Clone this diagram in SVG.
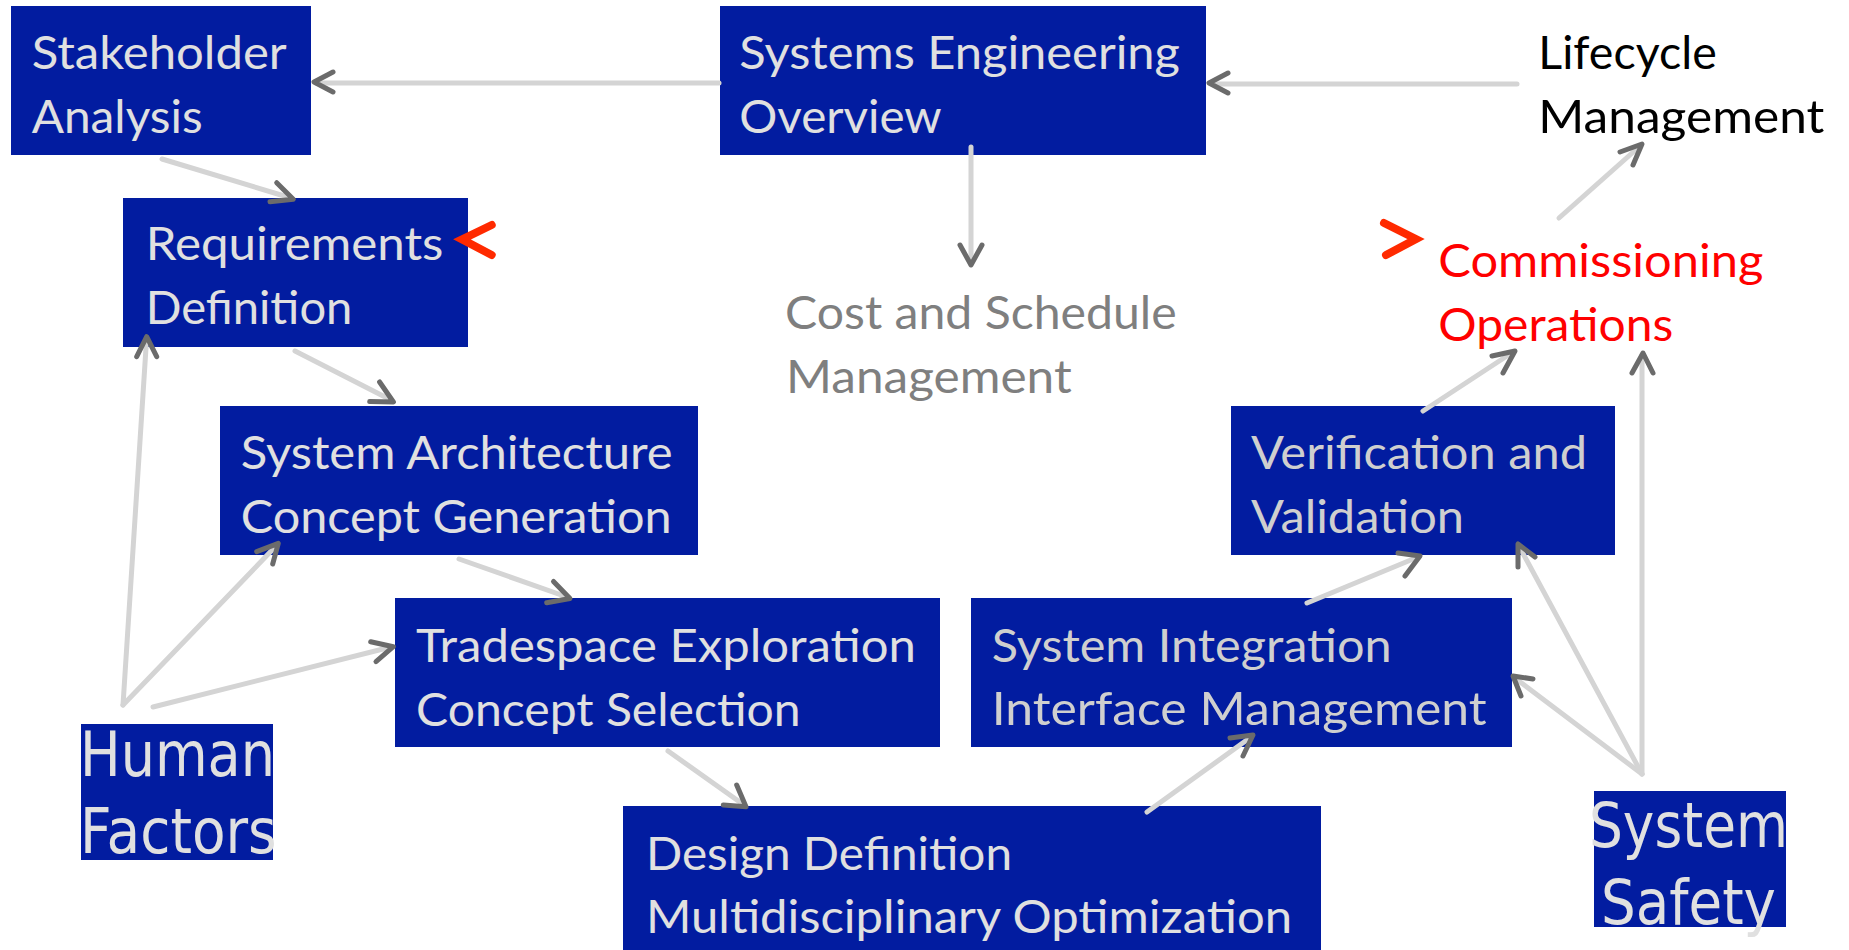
<svg xmlns="http://www.w3.org/2000/svg" width="1849" height="950" viewBox="0 0 1849 950">
<style>
.box{fill:#021ca0}
.t{font-family:Lato,"Open Sans","Liberation Sans",sans-serif;font-size:46.5px;fill:#e0e0e0}
.t2{fill:#cfcfcf}
.big{font-family:"DejaVu Sans","Liberation Sans",sans-serif;font-size:63px;fill:#e0e0e0}
.shaft{stroke:#d4d4d4;stroke-width:5;stroke-linecap:round;fill:none}
.head{stroke:#6b6b6b;stroke-width:5;stroke-linecap:round;stroke-linejoin:round;fill:none}
.red{stroke:#ff2a00;stroke-width:8;stroke-linecap:round;stroke-linejoin:miter;fill:none}
</style>
<rect width="1849" height="950" fill="#ffffff"/>
<g id="stakeholder-analysis">
<rect class="box" x="11" y="6" width="300" height="149"/>
<text class="t" x="31.7" y="69.3" textLength="255" lengthAdjust="spacingAndGlyphs">Stakeholder</text>
<text class="t" x="31.7" y="133.3" textLength="171" lengthAdjust="spacingAndGlyphs">Analysis</text>
</g>
<g id="requirements-definition">
<rect class="box" x="123" y="198" width="345" height="149"/>
<text class="t" x="145.7" y="260" textLength="297.7" lengthAdjust="spacingAndGlyphs">Requirements</text>
<text class="t" x="145.7" y="324" textLength="206.7" lengthAdjust="spacingAndGlyphs">Definition</text>
</g>
<g id="systems-engineering-overview">
<rect class="box" x="720" y="6" width="486" height="149"/>
<text class="t" x="739.3" y="69.3" textLength="440.7" lengthAdjust="spacingAndGlyphs">Systems Engineering</text>
<text class="t" x="739.3" y="133.3" textLength="202.4" lengthAdjust="spacingAndGlyphs">Overview</text>
</g>
<g id="cost-schedule-management">
<text class="t" style="fill:#7f7f7f" x="785" y="329.3" textLength="391.7" lengthAdjust="spacingAndGlyphs">Cost and Schedule</text>
<text class="t" style="fill:#7f7f7f" x="786" y="392.7" textLength="285.7" lengthAdjust="spacingAndGlyphs">Management</text>
</g>
<g id="lifecycle-management">
<text class="t" style="fill:#000000" x="1538.3" y="69.3" textLength="178.4" lengthAdjust="spacingAndGlyphs">Lifecycle</text>
<text class="t" style="fill:#000000" x="1538.3" y="133.3" textLength="286" lengthAdjust="spacingAndGlyphs">Management</text>
</g>
<g id="commissioning-operations">
<text class="t" style="fill:#ff0000" x="1438.3" y="276.7" textLength="325" lengthAdjust="spacingAndGlyphs">Commissioning</text>
<text class="t" style="fill:#ff0000" x="1438.3" y="340.7" textLength="235" lengthAdjust="spacingAndGlyphs">Operations</text>
</g>
<g id="system-architecture">
<rect class="box" x="220" y="406" width="478" height="149"/>
<text class="t" x="240.7" y="469.3" textLength="432" lengthAdjust="spacingAndGlyphs">System Architecture</text>
<text class="t" x="240.7" y="533.3" textLength="431" lengthAdjust="spacingAndGlyphs">Concept Generation</text>
</g>
<g id="tradespace-exploration">
<rect class="box" x="395" y="598" width="545" height="149"/>
<text class="t" x="416" y="661.7" textLength="500" lengthAdjust="spacingAndGlyphs">Tradespace Exploration</text>
<text class="t" x="416" y="725.7" textLength="384.7" lengthAdjust="spacingAndGlyphs">Concept Selection</text>
</g>
<g id="design-definition">
<rect class="box" x="623" y="806" width="698" height="150"/>
<text class="t" x="646" y="870" textLength="366" lengthAdjust="spacingAndGlyphs">Design Definition</text>
<text class="t" x="646" y="933.3" textLength="646" lengthAdjust="spacingAndGlyphs">Multidisciplinary Optimization</text>
</g>
<g id="system-integration">
<rect class="box" x="971" y="598" width="541" height="149"/>
<text class="t t2" x="991.7" y="661.7" textLength="400" lengthAdjust="spacingAndGlyphs">System Integration</text>
<text class="t t2" x="991.7" y="725" textLength="495" lengthAdjust="spacingAndGlyphs">Interface Management</text>
</g>
<g id="verification-validation">
<rect class="box" x="1231" y="406" width="384" height="149"/>
<text class="t t2" x="1251" y="469.3" textLength="336" lengthAdjust="spacingAndGlyphs">Verification and</text>
<text class="t t2" x="1251" y="533.3" textLength="213" lengthAdjust="spacingAndGlyphs">Validation</text>
</g>
<g id="human-factors">
<rect class="box" x="81" y="724" width="192" height="136"/>
<text class="big" x="80" y="776" textLength="195" lengthAdjust="spacingAndGlyphs">Human</text>
<text class="big" x="80" y="853.3" textLength="196.7" lengthAdjust="spacingAndGlyphs">Factors</text>
</g>
<g id="system-safety">
<rect class="box" x="1594" y="791" width="192" height="136"/>
<text class="big" x="1589" y="847" textLength="199" lengthAdjust="spacingAndGlyphs">System</text>
<text class="big" x="1601" y="924" textLength="175" lengthAdjust="spacingAndGlyphs">Safety</text>
</g>
<g id="connectors">
<line class="shaft" x1="719" y1="83" x2="316" y2="83"/>
<polyline class="head" points="333,72 314,82 333,92"/>
<line class="shaft" x1="1517" y1="84" x2="1212" y2="84"/>
<polyline class="head" points="1228,73 1209,83 1228,93"/>
<line class="shaft" x1="971" y1="147" x2="971" y2="262"/>
<polyline class="head" points="960,245 971,265 982,245"/>
<line class="shaft" x1="162" y1="159" x2="291" y2="198"/>
<polyline class="head" points="276.7,182.7 293.3,199.3 270,201.7"/>
<line class="shaft" x1="295" y1="351" x2="391" y2="400"/>
<polyline class="head" points="379.6,382 393.4,402 369.7,401.5"/>
<line class="shaft" x1="459" y1="559" x2="567" y2="597"/>
<polyline class="head" points="553.5,581.5 570,598.5 546.7,602.7"/>
<line class="shaft" x1="668" y1="751" x2="744" y2="805"/>
<polyline class="head" points="736.7,785 746,806.7 723.3,805"/>
<line class="shaft" x1="1147" y1="812" x2="1251" y2="737"/>
<polyline class="head" points="1230,738 1253,735 1243,756"/>
<line class="shaft" x1="1307" y1="603" x2="1418" y2="557"/>
<polyline class="head" points="1398,553 1420,556 1405,576"/>
<line class="shaft" x1="1423" y1="411" x2="1513" y2="352"/>
<polyline class="head" points="1492,356 1515,351 1503,373"/>
<line class="shaft" x1="1559" y1="218" x2="1640" y2="146"/>
<polyline class="head" points="1620,152 1642,144 1633,165"/>
<line class="shaft" x1="123" y1="705" x2="146.5" y2="340"/>
<polyline class="head" points="136.7,356.7 146.7,336.7 156.7,356.7"/>
<line class="shaft" x1="123" y1="705" x2="276" y2="546"/>
<polyline class="head" points="256.7,551.7 278.3,543.3 272.7,564"/>
<line class="shaft" x1="153" y1="707" x2="391" y2="647"/>
<polyline class="head" points="370.7,641.7 393.3,646.7 376,661.7"/>
<line class="shaft" x1="1642" y1="774" x2="1515" y2="678"/>
<polyline class="head" points="1533,679 1513,676 1521,696"/>
<line class="shaft" x1="1642" y1="774" x2="1519" y2="546"/>
<polyline class="head" points="1535,557 1518,544 1518,567"/>
<line class="shaft" x1="1642" y1="774" x2="1642" y2="355"/>
<polyline class="head" points="1632,373 1643,353 1653,373"/>
<polyline class="red" points="491.7,225 462,239.3 491.7,255"/>
<polyline class="red" points="1384,223 1416,239 1386,255"/>
</g>
</svg>
